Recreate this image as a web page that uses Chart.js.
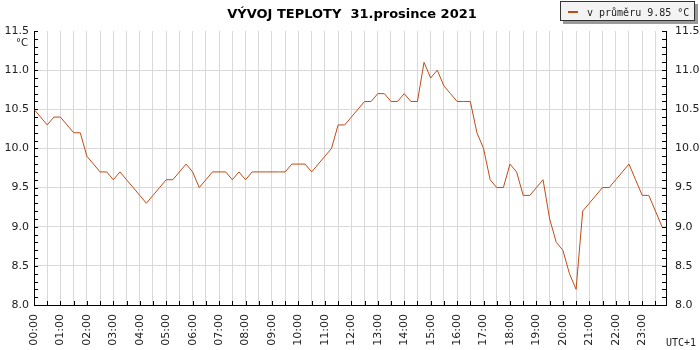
<!DOCTYPE html>
<html><head><meta charset="utf-8">
<script src="https://cdn.jsdelivr.net/npm/chart.js@4/dist/chart.umd.min.js"></script>
<style>html,body{margin:0;padding:0;background:#fff}#wrap{width:700px;height:350px}</style>
</head><body><div id="wrap"><canvas id="c" width="700" height="350"></canvas></div>
<script>
const chartTitle = 'VÝVOJ TEPLOTY  31.prosince 2021';
const seriesLabel = 'v průměru 9.85 °C';
const unitLabel = '°C';
const zoneLabel = 'UTC+1';

const sampleTimes = [
 '00:00','00:15','00:30','00:45','01:00','01:15','01:30','01:45',
 '02:00','02:15','02:30','02:45','03:00','03:15','03:30','03:45',
 '04:00','04:15','04:30','04:45','05:00','05:15','05:30','05:45',
 '06:00','06:15','06:30','06:45','07:00','07:15','07:30','07:45',
 '08:00','08:15','08:30','08:45','09:00','09:15','09:30','09:45',
 '10:00','10:15','10:30','10:45','11:00','11:15','11:30','11:45',
 '12:00','12:15','12:30','12:45','13:00','13:15','13:30','13:45',
 '14:00','14:15','14:30','14:45','15:00','15:15','15:30','15:45',
 '16:00','16:15','16:30','16:45','17:00','17:15','17:30','17:45',
 '18:00','18:15','18:30','18:45','19:00','19:15','19:30','19:45',
 '20:00','20:15','20:30','20:45','21:00','21:15','21:30','21:45',
 '22:00','22:15','22:30','22:45','23:00','23:15','23:30','23:45'
];
const temperatures = [
 10.5,10.4,10.3,10.4,10.4,10.3,10.2,10.2,
 9.9,9.8,9.7,9.7,9.6,9.7,9.6,9.5,
 9.4,9.3,9.4,9.5,9.6,9.6,9.7,9.8,
 9.7,9.5,9.6,9.7,9.7,9.7,9.6,9.7,
 9.6,9.7,9.7,9.7,9.7,9.7,9.7,9.8,
 9.8,9.8,9.7,9.8,9.9,10.0,10.3,10.3,
 10.4,10.5,10.6,10.6,10.7,10.7,10.6,10.6,
 10.7,10.6,10.6,11.1,10.9,11.0,10.8,10.7,
 10.6,10.6,10.6,10.2,10.0,9.6,9.5,9.5,
 9.8,9.7,9.4,9.4,9.5,9.6,9.1,8.8,
 8.7,8.4,8.2,9.2,9.3,9.4,9.5,9.5,
 9.6,9.7,9.8,9.6,9.4,9.4,9.2,9.0
];
const hourLabels = ['00:00','01:00','02:00','03:00','04:00','05:00','06:00','07:00','08:00','09:00','10:00','11:00',
 '12:00','13:00','14:00','15:00','16:00','17:00','18:00','19:00','20:00','21:00','22:00','23:00'];

const lineColor = '#c04b17';
const gridColor = '#d9d9d9';

function toHours(t){ const p = t.split(':'); return Number(p[0]) + Number(p[1]) / 60; }
const points = sampleTimes.map((t, i) => ({x: toHours(t), y: temperatures[i]}));

const tickFont = {family: 'DejaVu Sans', size: 11};

const decorPlugin = {
  id: 'decor',
  afterDatasetsDraw(chart) {
    const {ctx, chartArea: a, scales: {x, y}} = chart;
    ctx.save();
    ctx.strokeStyle = '#000';
    ctx.lineWidth = 1;
    ctx.beginPath();
    for (let v = 80; v <= 115; v++) {
      const py = Math.round(y.getPixelForValue(v / 10)) + 0.5;
      ctx.moveTo(a.left, py); ctx.lineTo(a.left + 4, py);
      ctx.moveTo(a.right, py); ctx.lineTo(a.right - 4, py);
    }
    for (let h = 0; h <= 47; h++) {
      const px = Math.round(x.getPixelForValue(h / 2)) + 0.5;
      ctx.moveTo(px, a.bottom); ctx.lineTo(px, a.bottom - 4);
    }
    ctx.stroke();
    ctx.restore();
  },
  afterDraw(chart) {
    const ctx = chart.ctx;
    ctx.save();
    // title
    ctx.fillStyle = '#000';
    ctx.font = 'bold 13px "DejaVu Sans"';
    ctx.textAlign = 'center';
    ctx.textBaseline = 'alphabetic';
    ctx.fillText(chartTitle, 352, 17.5);
    // legend box
    ctx.fillStyle = '#9a9a9a';
    ctx.fillRect(563, 4, 135, 20);
    ctx.fillStyle = '#f3f3f3';
    ctx.fillRect(560, 1, 135, 20);
    ctx.strokeStyle = '#333';
    ctx.lineWidth = 1;
    ctx.strokeRect(560.5, 1.5, 134, 19);
    ctx.strokeStyle = lineColor;
    ctx.lineWidth = 2;
    ctx.beginPath(); ctx.moveTo(568, 12); ctx.lineTo(578, 12); ctx.stroke();
    ctx.fillStyle = '#222';
    ctx.font = '10px "DejaVu Sans Mono"';
    ctx.textAlign = 'left';
    ctx.fillText(seriesLabel, 587, 16);
    // unit
    ctx.font = '10px "DejaVu Sans"';
    ctx.textAlign = 'right';
    ctx.fillText(unitLabel, 28, 46);
    // zone
    ctx.font = '10px "DejaVu Sans Mono"';
    ctx.textAlign = 'left';
    ctx.fillText(zoneLabel, 666, 346);
    ctx.restore();
  }
};

new Chart(document.getElementById('c'), {
  type: 'line',
  data: {
    datasets: [{
      label: seriesLabel,
      data: points,
      borderColor: lineColor,
      borderWidth: 1,
      pointRadius: 0,
      tension: 0,
      fill: false
    }]
  },
  options: {
    responsive: false,
    animation: false,
    devicePixelRatio: 1,
    layout: {padding: {top: 31, left: 0, right: 0, bottom: 0}},
    plugins: {legend: {display: false}, title: {display: false}, tooltip: {enabled: false}},
    scales: {
      x: {
        type: 'linear',
        min: 0,
        max: 23.9,
        afterFit(s) { s.height = 45; },
        border: {display: true, color: '#000', width: 1},
        grid: {color: gridColor, drawTicks: false, lineWidth: 1},
        ticks: {
          stepSize: 0.5,
          autoSkip: false,
          includeBounds: false,
          minRotation: 90,
          maxRotation: 90,
          padding: 9,
          color: '#222',
          font: tickFont,
          callback: (v) => Number.isInteger(v) ? hourLabels[v] : ''
        }
      },
      y: {
        position: 'left',
        min: 8,
        max: 11.5,
        afterFit(s) { s.width = 34; },
        border: {display: true, color: '#000', width: 1},
        grid: {
          drawTicks: false,
          color: (c) => (c.tick && c.tick.value === 11.5) ? 'rgba(0,0,0,0)' : gridColor
        },
        ticks: {stepSize: 0.5, padding: 5, color: '#222', font: tickFont, callback: (v) => Number(v).toFixed(1)}
      },
      y2: {
        position: 'right',
        min: 8,
        max: 11.5,
        afterFit(s) { s.width = 34; },
        border: {display: true, color: '#000', width: 1},
        grid: {display: false, drawTicks: false},
        ticks: {stepSize: 0.5, padding: 9, color: '#222', font: tickFont, callback: (v) => Number(v).toFixed(1)}
      }
    }
  },
  plugins: [decorPlugin]
});
</script>
</body></html>
